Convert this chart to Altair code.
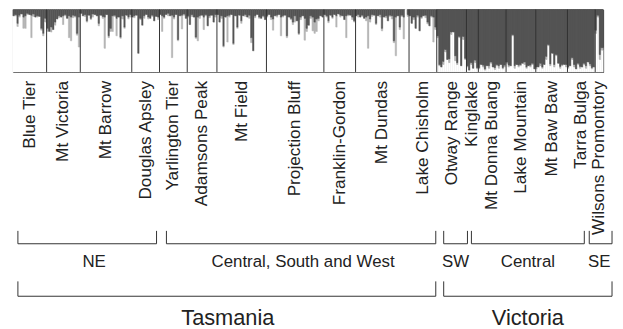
import altair as alt
import pandas as pd

# ---------------- data ----------------
tas_names = ["Blue Tier", "Mt Victoria", "Mt Barrow", "Douglas Apsley", "Yarlington Tier",
             "Adamsons Peak", "Mt Field", "Projection Bluff", "Franklin-Gordon", "Mt Dundas",
             "Lake Chisholm"]
# Tasmania: % of dark cluster (top) and light-grey cluster (below it); rest is white
tas_dark = [
    [10, 8, 22, 9, 7, 12, 10, 6, 8, 9, 7, 12, 10, 11, 30, 38, 14],
    [30, 35, 28, 32, 20, 15, 10, 12, 10, 8, 14, 10, 12, 9, 10, 38, 12],
    [6, 10, 8, 18, 9, 14, 7, 8, 10, 22, 9, 11, 12, 8, 42, 30, 10, 9, 14, 12, 44, 10, 28, 9, 12, 8],
    [12, 10, 9, 70, 14, 25, 10, 8, 12, 14, 9, 18, 11, 12],
    [8, 10, 12, 8, 6, 10, 9, 12, 8, 48, 10, 9, 7, 14],
    [10, 24, 8, 12, 44, 12, 10, 9, 12, 8, 26, 10, 9, 20, 8],
    [8, 20, 10, 58, 12, 10, 9, 8, 54, 10, 28, 9, 18, 10, 8, 12, 9, 45, 66, 10, 8, 12, 14, 10, 16],
    [10, 8, 12, 15, 10, 9, 8, 12, 10, 9, 42, 12, 14, 20, 10, 18, 38, 12, 10, 14, 30, 25, 10, 12, 20, 15, 14, 10, 12],
    [8, 10, 18, 9, 12, 8, 10, 7, 9, 10, 16, 10, 8, 9, 12, 18],
    [10, 8, 12, 9, 14, 12, 10, 15, 8, 9, 22, 10, 8, 30, 12, 10, 18, 9, 10, 50, 12, 10, 28, 9, 12, 0, 8],
    [10, 22, 12, 30, 9, 34, 12, 10, 9, 20, 26, 10, 12, 28],
]
tas_light = [
    [0, 2, 5, 3, 0, 18, 20, 2, 0, 36, 4, 0, 2, 0, 3, 4, 6],
    [5, 0, 8, 0, 5, 0, 3, 0, 14, 2, 0, 35, 38, 4, 2, 3, 48],
    [0, 0, 3, 2, 0, 2, 5, 0, 0, 4, 0, 3, 50, 0, 3, 5, 25, 2, 28, 0, 2, 5, 2, 0, 3, 4],
    [0, 3, 0, 0, 2, 0, 4, 0, 3, 0, 2, 0, 0, 4],
    [0, 25, 2, 0, 4, 0, 68, 3, 0, 2, 0, 22, 2, 0],
    [2, 0, 3, 0, 2, 38, 4, 0, 20, 2, 0, 3, 0, 0, 4],
    [0, 0, 4, 2, 0, 42, 3, 0, 2, 0, 2, 0, 4, 0, 3, 0, 5, 8, 0, 3, 0, 2, 0, 2, 0],
    [2, 0, 4, 18, 0, 3, 0, 30, 2, 0, 3, 0, 2, 4, 10, 0, 2, 4, 0, 35, 5, 0, 4, 22, 18, 20, 4, 0, 0],
    [0, 2, 3, 0, 2, 0, 18, 0, 3, 0, 0, 35, 2, 0, 4, 2],
    [0, 4, 0, 2, 0, 6, 52, 5, 3, 0, 2, 0, 4, 4, 0, 3, 0, 2, 5, 3, 62, 0, 4, 2, 35, 0, 3],
    [0, 0, 4, 0, 3, 0, 2, 0, 4, 3, 0, 2, 40, 4],
]

vic_names = ["Otway Range", "Kinglake", "Mt Donna Buang", "Lake Mountain", "Mt Baw Baw",
             "Tarra Bulga", "Wilsons Promontory"]
# Victoria: % of white cluster (bottom) and light-grey cluster (above it); rest is dark
vic_white = [
    [55, 10, 8, 12, 32, 20, 15, 60, 64, 18, 12, 55, 10, 52, 20],
    [8, 3, 12, 6, 15, 5],
    [5, 12, 8, 3, 10, 6, 14, 8, 4, 10, 6, 12, 5, 8],
    [14, 8, 10, 58, 6, 12, 8, 10, 14, 12, 6, 10, 8, 12, 5],
    [5, 8, 10, 6, 12, 20, 42, 10, 30, 8, 26, 14, 6, 10, 12, 8],
    [6, 10, 20, 8, 5, 12, 6, 8, 12, 6, 16, 10, 5, 8],
    [62, 88, 20, 35],
]
vic_light = [
    [3, 2, 0, 5, 4, 0, 6, 4, 0, 8, 3, 2, 0, 5, 2],
    [2, 0, 3, 0, 4, 2],
    [2, 0, 3, 2, 0, 4, 2, 0, 3, 2, 4, 0, 2, 3],
    [2, 3, 0, 2, 4, 0, 3, 2, 0, 4, 2, 0, 3, 2, 0],
    [3, 0, 4, 2, 0, 5, 2, 3, 0, 4, 2, 0, 3, 2, 0, 4],
    [2, 0, 3, 4, 0, 2, 3, 0, 2, 4, 0, 3, 2, 0],
    [5, 3, 8, 4],
]

# region brackets (in individual-index units) and their labels
group_names = ["NE", "Central, South and West", "SW", "Central", "SE"]
group_start = [2.5, 77.5, 217.5, 231.5, 291.0]
group_end = [72.5, 213.5, 229.5, 288.5, 302.5]
group_label_x = [41.0, 146.5, 223.5, 260.0, 296.0]

state_names = ["Tasmania", "Victoria"]
state_start = [2.5, 217.5]
state_end = [213.5, 302.5]
state_label_x = [108.5, 260.0]

# ---------------- build tables ----------------
seg_rows, pop_rows, div_rows = [], [], []
k = 0
all_pops = []
for name, d, l in zip(tas_names, tas_dark, tas_light):
    all_pops.append((name, [100 - a - b for a, b in zip(d, l)], l, "white"))
for name, w, l in zip(vic_names, vic_white, vic_light):
    all_pops.append((name, w, l, "dark"))
for name, w, l, major in all_pops:
    start = k
    for wi, li in zip(w, l):
        seg_rows.append(dict(x0=k, x1=k + 1, y0=0, y1=wi, cl="white"))
        seg_rows.append(dict(x0=k, x1=k + 1, y0=wi, y1=wi + li, cl="light"))
        seg_rows.append(dict(x0=k, x1=k + 1, y0=wi + li, y1=100, cl="dark"))
        k += 1
    pop_rows.append(dict(name=name, mid=(start + k) / 2, start=start, end=k,
                         major=major, lo=0, hi=100))
    div_rows.append(dict(pos=k))
N = k
div_rows = div_rows[:-1]

seg = pd.DataFrame(seg_rows)
seg = seg[seg.y1 > seg.y0]
pops = pd.DataFrame(pop_rows)
divs = pd.DataFrame(div_rows)
grp = pd.DataFrame(dict(name=group_names, start=group_start, end=group_end, lx=group_label_x))
sta = pd.DataFrame(dict(name=state_names, start=state_start, end=state_end, lx=state_label_x))

W = 2 * N  # two pixels per individual
xs = alt.Scale(domain=[0, N], nice=False, zero=False)
ys = alt.Scale(domain=[0, 100], nice=False)
cscale = alt.Scale(domain=["white", "light", "dark"], range=["#ffffff", "#b4b4b4", "#545454"])
INK = "#333333"
FONT = "Liberation Sans"

# population background in its majority cluster colour (hides seams between bars)
backs = alt.Chart(pops).mark_rect(strokeWidth=0).encode(
    x=alt.X("start:Q", scale=xs, axis=None),
    x2="end:Q",
    y=alt.Y("lo:Q", scale=ys, axis=None),
    y2="hi:Q",
    color=alt.Color("major:N", scale=cscale, legend=None),
)

bars = alt.Chart(seg).mark_rect(strokeWidth=0.6).encode(
    x=alt.X("x0:Q", scale=xs, axis=None),
    x2="x1:Q",
    y=alt.Y("y0:Q", scale=ys, axis=None),
    y2="y1:Q",
    color=alt.Color("cl:N", scale=cscale, legend=None),
    stroke=alt.Stroke("cl:N", scale=cscale, legend=None),
)

dividers = alt.Chart(divs).mark_rule(color=INK, strokeWidth=1).encode(
    x=alt.X("pos:Q", scale=xs, axis=None)
)

labels = alt.Chart(pops).mark_text(
    angle=270, align="right", baseline="middle", fontSize=17.4, font=FONT, color="#222222"
).encode(
    x=alt.X("mid:Q", scale=xs, axis=None),
    y=alt.value(72),
    text="name:N",
)


def bracket(df, top, bottom):
    h = alt.Chart(df).mark_rule(color=INK, strokeWidth=1).encode(
        x=alt.X("start:Q", scale=xs, axis=None), x2="end:Q", y=alt.value(bottom)
    )
    t = alt.Chart(df).transform_fold(["start", "end"], as_=["side", "v"]).mark_rule(
        color=INK, strokeWidth=1
    ).encode(
        x=alt.X("v:Q", scale=xs, axis=None), y=alt.value(top), y2=alt.value(bottom)
    )
    return h + t


grp_br = bracket(grp, 223.5, 236.5)
sta_br = bracket(sta, 274.5, 289.5)

grp_txt = alt.Chart(grp).mark_text(
    fontSize=17, font=FONT, color="#222222", baseline="alphabetic", align="center"
).encode(x=alt.X("lx:Q", scale=xs, axis=None), y=alt.value(260), text="name:N")

sta_txt = alt.Chart(sta).mark_text(
    fontSize=22, font=FONT, color="#222222", baseline="alphabetic", align="center"
).encode(x=alt.X("lx:Q", scale=xs, axis=None), y=alt.value(319), text="name:N")

chart = alt.layer(backs, bars, dividers, labels, grp_br, sta_br, grp_txt, sta_txt).properties(
    width=W,
    height=63,
    autosize=alt.AutoSizeParams(type="none"),
    padding={"left": 5, "top": 0, "right": 12, "bottom": 258},
).configure_view(stroke=INK, strokeWidth=1)

chart.save("out.html", embed_options={"renderer": "svg", "actions": False})
